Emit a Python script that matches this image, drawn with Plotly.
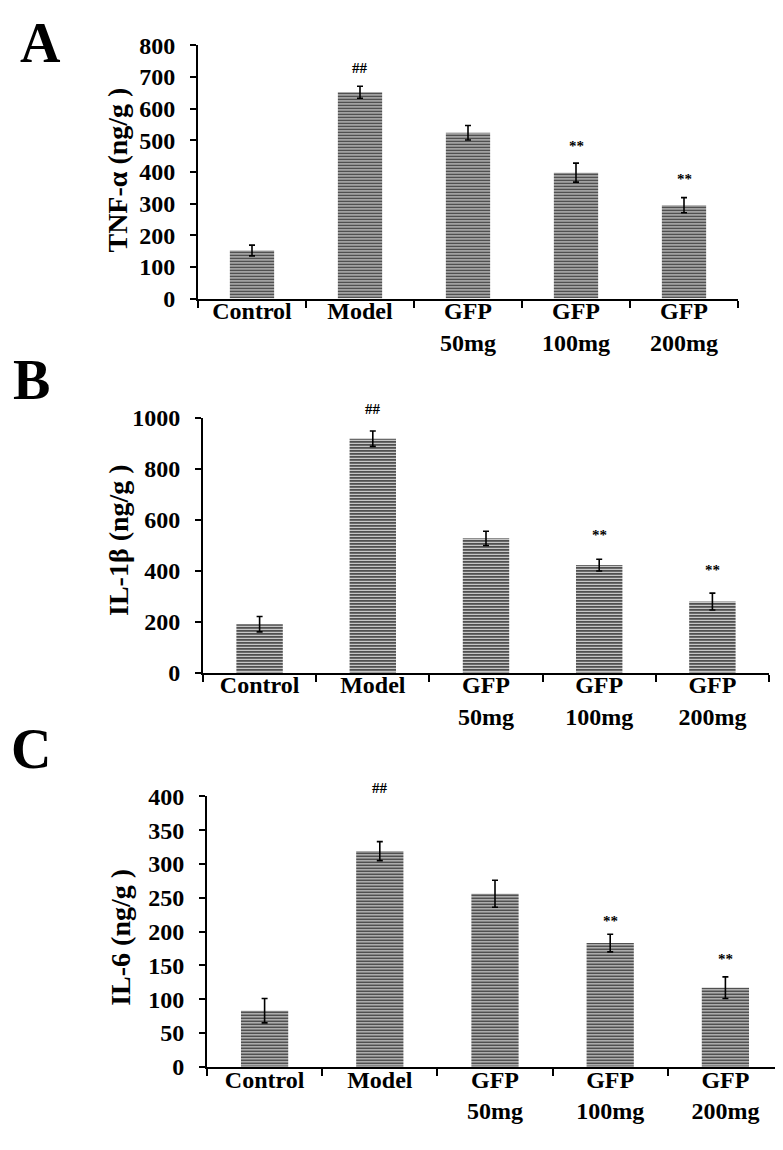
import plotly.graph_objects as go

# ---- data ----
groups = ["Control", "Model", "GFP<br>50mg", "GFP<br>100mg", "GFP<br>200mg"]

tnf_vals = [152, 652, 524, 398, 295]
tnf_err = [17, 19, 23, 30, 24]
il1b_vals = [190, 918, 527, 422, 279]
il1b_err = [30, 30, 28, 23, 33]
il6_vals = [83, 319, 256, 183, 117]
il6_err = [18, 14, 20, 13, 16]

# significance marks: groups, labels, y positions in data units
tnf_sig_x = ["Model", "GFP<br>100mg", "GFP<br>200mg"]
tnf_sig_txt = ["##", "**", "**"]
tnf_sig_y = [728, 481, 377]
il1b_sig_x = ["Model", "GFP<br>100mg", "GFP<br>200mg"]
il1b_sig_txt = ["##", "**", "**"]
il1b_sig_y = [1036, 541, 403]
il6_sig_x = ["Model", "GFP<br>100mg", "GFP<br>200mg"]
il6_sig_txt = ["##", "**", "**"]
il6_sig_y = [412, 215, 160]

panel_titles = ["TNF-α (ng/g )", "IL-1β (ng/g )", "IL-6 (ng/g )"]
panel_letters = ["A", "B", "C"]
y_ranges = [(0, 800), (0, 1000), (0, 400)]
y_dticks = [100, 200, 50]

# ---- layout geometry (pixels) ----
W, H = 783, 1150
FONT = "Liberation Serif"
geom = [
    dict(x0=190, x1=730, ybot=284, ytop=25, title_xy=(110, 153), letter_xy=(32, 23)),
    dict(x0=195, x1=761, ybot=666.7, ytop=406, title_xy=(111, 531), letter_xy=(23, 367)),
    dict(x0=199, x1=775, ybot=1070, ytop=793.3, title_xy=(113, 937), letter_xy=(23, 745)),
]

series = [
    (tnf_vals, tnf_err, tnf_sig_x, tnf_sig_txt, tnf_sig_y),
    (il1b_vals, il1b_err, il1b_sig_x, il1b_sig_txt, il1b_sig_y),
    (il6_vals, il6_err, il6_sig_x, il6_sig_txt, il6_sig_y),
]

fig = go.Figure()
annotations = []

for i, ((vals, errs, sx, stxt, sy), g) in enumerate(zip(series, geom)):
    sfx = "" if i == 0 else str(i + 1)
    fig.add_trace(go.Bar(
        x=groups, y=vals,
        xaxis="x" + sfx, yaxis="y" + sfx,
        width=0.41,
        marker=dict(
            color="#505050",
            line=dict(width=0),
            pattern=dict(shape="-", fillmode="replace", fgcolor="#f0f0f0",
                         bgcolor="#505050", size=3, solidity=0.3),
        ),
        error_y=dict(type="data", array=errs, visible=True, color="black",
                     thickness=1.6, width=3),
        showlegend=False,
    ))
    # significance marks, placed in the axis' domain coordinates so that
    # marks above the top of the axis range are not hidden
    y0, y1 = y_ranges[i]
    for cx, t, v in zip(sx, stxt, sy):
        annotations.append(dict(
            x=cx, xref="x" + sfx,
            y=(v - y0) / (y1 - y0), yref="y" + sfx + " domain",
            text=t, showarrow=False, xanchor="center", yanchor="middle",
            font=dict(family=FONT, size=15, color="black", weight="bold"),
        ))
    xd = [g["x0"] / W, g["x1"] / W]
    yd = [1 - g["ybot"] / H, 1 - g["ytop"] / H]
    fig.update_layout(**{
        "xaxis" + sfx: dict(
            domain=xd, anchor="y" + sfx, type="category",
            categoryorder="array", categoryarray=groups,
            showline=True, linecolor="black", linewidth=2,
            ticks="outside", tickson="boundaries", ticklen=7, tickwidth=2, tickcolor="black",
            ticklabelstandoff=-10,
            tickfont=dict(family=FONT, size=24, color="black", weight="bold"),
            showgrid=False, zeroline=False, fixedrange=True,
        ),
        "yaxis" + sfx: dict(
            domain=yd, anchor="x" + sfx, range=list(y_ranges[i]),
            dtick=y_dticks[i], tick0=0,
            showline=True, linecolor="black", linewidth=2,
            ticks="outside", ticklen=6, tickwidth=1.5, tickcolor="black",
            ticklabelstandoff=10,
            tickfont=dict(family=FONT, size=24, color="black", weight="bold"),
            showgrid=False, zeroline=False, fixedrange=True,
        ),
    })
    tx, ty = g["title_xy"]
    annotations.append(dict(
        x=tx / W, y=1 - ty / H, xref="paper", yref="paper",
        text=panel_titles[i], textangle=-90, showarrow=False,
        xanchor="center", yanchor="middle",
        font=dict(family=FONT, size=28, color="black", weight="bold"),
    ))
    lx, ly = g["letter_xy"]
    annotations.append(dict(
        x=lx / W, y=1 - ly / H, xref="paper", yref="paper",
        text=panel_letters[i], showarrow=False,
        xanchor="center", yanchor="middle",
        font=dict(family=FONT, size=56, color="black", weight="bold"),
    ))

fig.update_layout(
    width=W, height=H,
    margin=dict(l=0, r=0, t=0, b=0),
    paper_bgcolor="white", plot_bgcolor="white",
    annotations=annotations,
    bargap=0.59,
)

fig.write_html("out.html")
